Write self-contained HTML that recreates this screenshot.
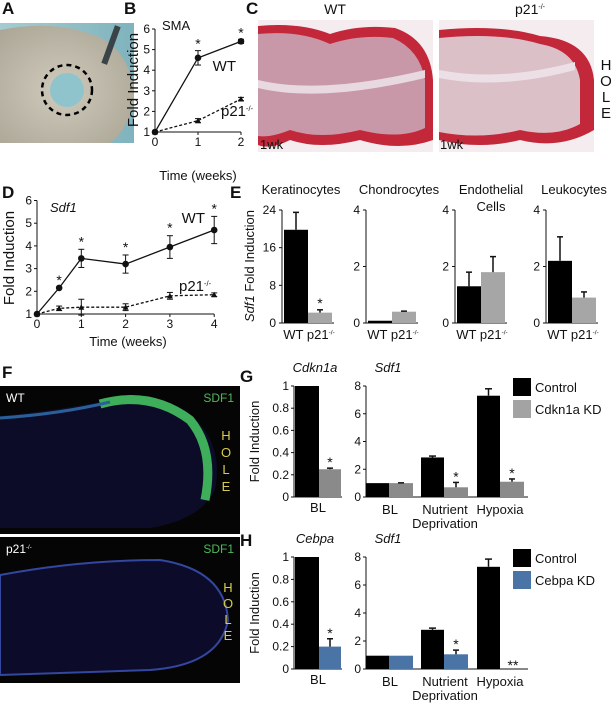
<!DOCTYPE html>
<html><head><meta charset="utf-8"><style>
html,body{margin:0;padding:0;background:#fff;}
svg{display:block;font-family:"Liberation Sans",Arial,sans-serif;}
</style></head><body>
<svg id="fig" width="614" height="706" viewBox="0 0 614 706" xmlns="http://www.w3.org/2000/svg">
<defs>
<radialGradient id="skin" cx="0.45" cy="0.55" r="0.7"><stop offset="0" stop-color="#cfcabb"/><stop offset="1" stop-color="#aaa595"/></radialGradient>
<linearGradient id="bgblue" x1="0" x2="1"><stop offset="0" stop-color="#a5ccd0"/><stop offset="1" stop-color="#7fb3bd"/></linearGradient>
</defs>
<g>
<rect x="0" y="23" width="134" height="120" fill="url(#bgblue)"/>
<path d="M0 30 Q60 18 105 40 Q134 60 134 100 Q128 130 110 143 L0 143 Z" fill="url(#skin)"/>
<rect x="108" y="25" width="6" height="40" fill="#3a4448" transform="rotate(20 111 45)"/>
<circle cx="67" cy="90" r="17" fill="#8fc4cc"/>
<circle cx="67" cy="90" r="25" fill="none" stroke="#000" stroke-width="2.5" stroke-dasharray="5 4"/>
</g>
<g>
<rect x="258" y="20" width="175" height="132" fill="#f4ecee"/>
<path d="M258 26 Q300 22 330 34 Q360 24 395 28 Q430 40 433 80 L433 140 Q400 152 360 140 Q320 150 290 140 Q270 150 258 145 Z" fill="#c2283a"/>
<path d="M258 34 Q300 30 330 44 Q360 34 393 38 Q420 50 425 80 L425 128 Q400 140 360 130 Q320 140 290 130 Q270 138 258 136 Z" fill="#c898a8"/>
<path d="M258 80 Q320 95 425 70 L425 78 Q320 103 258 88 Z" fill="#e8d8e0"/>
</g>
<g>
<rect x="439" y="20" width="155" height="132" fill="#f4ecee"/>
<path d="M439 30 Q500 24 540 36 Q590 40 594 80 L594 130 Q560 150 520 140 Q480 150 439 140 Z" fill="#c2283a"/>
<path d="M439 38 Q500 32 540 44 Q575 50 580 80 L580 124 Q555 138 520 130 Q480 140 439 132 Z" fill="#dcc0c8"/>
<path d="M439 70 Q500 82 575 62 L575 70 Q500 90 439 78 Z" fill="#ece0e6"/>
</g>
<g>
<rect x="0" y="386" width="240" height="148" fill="#050505"/>
<path d="M0 416 Q60 410 110 400 Q150 392 185 410 Q225 440 215 490 Q200 520 150 528 L0 528 Z" fill="#0c0c28"/>
<path d="M100 404 Q150 390 190 420 Q215 450 205 500" fill="none" stroke="#3fae5a" stroke-width="9"/>
<path d="M0 418 Q60 414 110 402" fill="none" stroke="#2a5f9a" stroke-width="3"/>
</g>
<g>
<rect x="0" y="537" width="240" height="146" fill="#050505"/>
<path d="M0 575 Q80 560 160 560 Q225 570 228 620 Q220 665 150 670 L0 675 Z" fill="#0c0c2a" stroke="#3346a0" stroke-width="2"/>
</g>
</svg>
<script>
const NS='http://www.w3.org/2000/svg';
const svg=document.getElementById('fig');
function mk(tag,attrs){const e=document.createElementNS(NS,tag);for(const k in attrs)e.setAttribute(k,attrs[k]);svg.appendChild(e);return e;}
function tx(x,y,s,size,anchor,extra){const e=mk('text',Object.assign({x:x,y:y,'font-size':size,'text-anchor':anchor||'middle',fill:'#111'},extra||{}));e.textContent=s;return e;}
function txh(x,y,h,size,anchor,extra){const e=mk('text',Object.assign({x:x,y:y,'font-size':size,'text-anchor':anchor||'middle',fill:'#111'},extra||{}));e.innerHTML=h;return e;}
const SUP='<tspan font-size="0.5em" dy="-0.7em">-/-</tspan>';
function line(x1,y1,x2,y2,w,dash){return mk('line',{x1:x1,y1:y1,x2:x2,y2:y2,stroke:'#111','stroke-width':w||1,'stroke-dasharray':dash||'none'});}

const bWeeks=[0,1,2];
const bWT=[1,4.6,5.4];
const bWTerr=[0,0.35,0.1];
const bP21=[1,1.55,2.6];
const bP21err=[0,0.1,0.08];
const bYTicks=[1,2,3,4,5,6];
const bXTicks=[0,1,2];

const dWeeks=[0,0.5,1,2,3,4];
const dWT=[1,2.15,3.45,3.2,3.95,4.7];
const dWTerr=[0,0,0.4,0.4,0.5,0.6];
const dP21=[1,1.25,1.3,1.3,1.8,1.85];
const dP21err=[0,0.1,0.35,0.15,0.15,0.08];
const dYTicks=[1,2,3,4,5,6];
const dXTicks=[0,1,2,3,4];

const eCells=['Keratinocytes','Chondrocytes','Endothelial','Leukocytes'];
const eWT=[19.8,0.08,1.3,2.2];
const eWTerr=[3.7,0,0.5,0.85];
const eP21=[2.2,0.4,1.8,0.9];
const eP21err=[0.6,0.02,0.55,0.2];
const eMax=[24,4,4,4];
const eTicksK=[0,8,16,24];
const eTicksO=[0,2,4];

const gLeftCtrl=[1];
const gLeftKD=[0.25];
const gCats=['BL','Nutrient','Hypoxia'];
const gCtrl=[1,2.85,7.3];
const gCtrlErr=[0,0.1,0.5];
const gKD=[1,0.7,1.1];
const gKDErr=[0.02,0.35,0.2];

const hLeftCtrl=[1];
const hLeftKD=[0.2];
const hLeftKDErr=[0.07];
const hCtrl=[0.95,2.8,7.3];
const hCtrlErr=[0,0.12,0.55];
const hKD=[0.95,1.05,0];
const hKDErr=[0,0.3,0];
const leftTicks=[0,0.2,0.4,0.6,0.8,1];
const rightTicks=[0,2,4,6,8];

[['A',2,14],['B',124,14],['C',246,14],['D',2,198],['E',230,198],['F',2,378],['G',240,382],['H',240,546]].forEach(p=>{
  const t=tx(p[1],p[2],p[0],17,'start',{'font-weight':'bold'});
  
  
});

const bx=w=>155+w*43;
const by=v=>132-(v-1)*20.6;
const bAx=line(bx(0),by(6),bx(0),by(1));


const bXa=line(bx(0),by(1),bx(2),by(1));


bYTicks.forEach(v=>{line(bx(0)-3,by(v),bx(0),by(v));const t=tx(bx(0)-5,by(v)+4,String(v),12,'end');});
bXTicks.forEach(v=>{line(bx(v),by(1),bx(v),by(1)+3);const t=tx(bx(v),by(1)+14,String(v),12);});
function series(xs,ys,errs,xf,yf,dash,marker,name){
  const pts=xs.map((x,i)=>xf(x)+','+yf(ys[i])).join(' ');
  const pl=mk('polyline',{points:pts,fill:'none',stroke:'#111','stroke-width':1.3,'stroke-dasharray':dash});
  
  
  xs.forEach((x,i)=>{
    if(errs[i]>0){line(xf(x),yf(ys[i]-errs[i]),xf(x),yf(ys[i]+errs[i]));line(xf(x)-3,yf(ys[i]+errs[i]),xf(x)+3,yf(ys[i]+errs[i]));line(xf(x)-3,yf(ys[i]-errs[i]),xf(x)+3,yf(ys[i]-errs[i]));}
    let m;
    if(marker==='c'){m=mk('circle',{cx:xf(x),cy:yf(ys[i]),r:3.3,fill:'#111'});}
    else{const X=xf(x),Y=yf(ys[i]);m=mk('polygon',{points:(X-3)+','+(Y+2.5)+' '+(X+3)+','+(Y+2.5)+' '+X+','+(Y-3),fill:'#111'});}
    
    
  });
}
series(bWeeks,bWT,bWTerr,bx,by,'none','c','b-wt');
series(bWeeks,bP21,bP21err,bx,by,'3 2','t','b-p21');
[1,2].forEach(i=>{const t=tx(bx(bWeeks[i]),by(bWT[i]+bWTerr[i])-2,'*',14);});
let t;
t=tx(162,30,'SMA',13,'start');
t=tx(236,71,'WT',15,'end');
t=txh(221,116,'p21'+SUP,15,'start');
t=tx(198,180,'Time (weeks)',13);
t=tx(0,0,'Fold Induction',15,'middle',{transform:'translate(138,80) rotate(-90)'});

t=tx(335,14,'WT',14);
t=txh(530,14,'p21'+SUP,14);
['H','O','L','E'].forEach((c,i)=>{const e=tx(606,70+i*16,c,15);});
t=tx(260,149,'1wk',13,'start');
t=tx(440,149,'1wk',13,'start');

const dx=w=>37+w*44.3;
const dy=v=>314-(v-1)*22.7;
const dAx=line(dx(0),dy(6),dx(0),dy(1));


const dXa=line(dx(0),dy(1),dx(4),dy(1));


dYTicks.forEach(v=>{line(dx(0)-3,dy(v),dx(0),dy(v));const e=tx(dx(0)-5,dy(v)+4,String(v),12,'end');});
dXTicks.forEach(v=>{line(dx(v),dy(1),dx(v),dy(1)+3);const e=tx(dx(v),dy(1)+14,String(v),12);});
series(dWeeks,dWT,dWTerr,dx,dy,'none','c','d-wt');
series(dWeeks,dP21,dP21err,dx,dy,'3 2','t','d-p21');
[1,2,3,4,5].forEach(i=>{const e=tx(dx(dWeeks[i]),dy(dWT[i]+dWTerr[i])-3,'*',14);});
t=tx(50,212,'Sdf1',13,'start',{'font-style':'italic'});
t=tx(205,223,'WT',15,'end');
t=txh(179,291,'p21'+SUP,15,'start');
t=tx(128,346,'Time (weeks)',13);
t=tx(0,0,'Fold Induction',15,'middle',{transform:'translate(14,258) rotate(-90)'});

const eAxisX=[282,366,455,546];
const eTitleX=[301,399,491,574];
eCells.forEach((c,k)=>{
  const ax=eAxisX[k];
  const ey=v=>323-v/eMax[k]*113;
  const a=line(ax,ey(eMax[k]),ax,ey(0));
  
  
  line(ax,ey(0),ax+52,ey(0));
  (k===0?eTicksK:eTicksO).forEach(v=>{line(ax-3,ey(v),ax,ey(v));const e=tx(ax-6,ey(v)+4,String(v),12,'end');});
  const b1=mk('rect',{x:ax+2,y:ey(eWT[k]),width:24,height:ey(0)-ey(eWT[k]),fill:'#000'});
  
  
  const b2=mk('rect',{x:ax+26,y:ey(eP21[k]),width:24,height:ey(0)-ey(eP21[k]),fill:'#a6a6a6'});
  
  
  if(eWTerr[k]>0){line(ax+14,ey(eWT[k]),ax+14,ey(eWT[k]+eWTerr[k]),1.5);line(ax+11,ey(eWT[k]+eWTerr[k]),ax+17,ey(eWT[k]+eWTerr[k]),1.5);}
  if(eP21err[k]>0){line(ax+38,ey(eP21[k]),ax+38,ey(eP21[k]+eP21err[k]),1.5);line(ax+35,ey(eP21[k]+eP21err[k]),ax+41,ey(eP21[k]+eP21err[k]),1.5);}
  if(k===0){const s=tx(ax+38,ey(eP21[k]+eP21err[k])-2,'*',14);}
  const l=txh(ax+27,339,'WT p21'+SUP,13);
  const ti=tx(eTitleX[k],194,c,13);
});
t=tx(491,211,'Cells',13);
t=txh(0,0,'<tspan font-style="italic">Sdf1</tspan> Fold Induction',13,'middle',{transform:'translate(254,266) rotate(-90)'});



function kdPanel(pre,top,bot,leftC,leftK,leftKErr,ctrl,ctrlErr,kd,kdErr,kdColor,kdLegendColor,gene,kdName){
  const lx=294, rx=366;
  const ly=v=>bot-v*(bot-top);
  const ry=v=>bot-v/8*(bot-top);
  let e=line(lx,top,lx,bot);
  
  
  line(lx,bot,lx+48,bot);
  leftTicks.forEach(v=>{line(lx-3,ly(v),lx,ly(v));const q=tx(lx-5,ly(v)+4,String(v),12,'end');});
  e=mk('rect',{x:lx+1,y:ly(leftC[0]),width:24,height:bot-ly(leftC[0]),fill:'#000'});
  
  
  e=mk('rect',{x:lx+25,y:ly(leftK[0]),width:22,height:bot-ly(leftK[0]),fill:kdColor});
  
  
  if(leftKErr[0]>0){line(lx+36,ly(leftK[0]),lx+36,ly(leftK[0]+leftKErr[0]),1.5);line(lx+33,ly(leftK[0]+leftKErr[0]),lx+39,ly(leftK[0]+leftKErr[0]),1.5);}
  e=tx(lx+36,ly(leftK[0]+leftKErr[0])-1,'*',14);
  
  
  e=tx(lx+24,bot+15,'BL',13);
  
  
  e=line(rx,top,rx,bot);
  
  
  line(rx,bot,528,bot);
  rightTicks.forEach(v=>{line(rx-3,ry(v),rx,ry(v));const q=tx(rx-5,ry(v)+4,String(v),12,'end');});
  const gx=[366,421,477];
  gCats.forEach((c,i)=>{
    const x0=gx[i];
    const b=mk('rect',{x:x0,y:ry(ctrl[i]),width:23,height:bot-ry(ctrl[i]),fill:'#000'});
    
    
    if(ctrlErr[i]>0){line(x0+11.5,ry(ctrl[i]),x0+11.5,ry(ctrl[i]+ctrlErr[i]),1.5);line(x0+8,ry(ctrl[i]+ctrlErr[i]),x0+15,ry(ctrl[i]+ctrlErr[i]),1.5);}
    if(kd[i]>0){
      const k2=mk('rect',{x:x0+23,y:ry(kd[i]),width:24,height:bot-ry(kd[i]),fill:kdColor});
      
      
      if(kdErr[i]>0){line(x0+35,ry(kd[i]),x0+35,ry(kd[i]+kdErr[i]),1.5);line(x0+32,ry(kd[i]+kdErr[i]),x0+38,ry(kd[i]+kdErr[i]),1.5);}
    }
    if(i>0){
      const s=kd[i]>0?tx(x0+35,ry(kd[i]+kdErr[i])-1,'*',14):tx(x0+36,bot+1,'**',14);
      
      
    }
  });
  e=tx(390,bot+17,'BL',13);
  e=tx(445,bot+17,'Nutrient',13);
  e=tx(445,bot+31,'Deprivation',13);
  e=tx(500,bot+17,'Hypoxia',13);
  e=tx(315,top-14,gene,13,'middle',{'font-style':'italic'});
  e=tx(388,top-14,'Sdf1',13,'middle',{'font-style':'italic'});
  e=tx(0,0,'Fold Induction',13,'middle',{transform:'translate('+259+','+((top+bot)/2)+') rotate(-90)'});
  e=mk('rect',{x:513,y:top-8,width:18,height:18,fill:'#000'});
  e=tx(535,top+6,'Control',13,'start');
  e=mk('rect',{x:513,y:top+14,width:18,height:18,fill:kdLegendColor});
  e=tx(535,top+28,kdName,13,'start');
}
kdPanel('g',386,497,gLeftCtrl,gLeftKD,[0.01],gCtrl,gCtrlErr,gKD,gKDErr,'#8a8a8a','#a3a3a3','Cdkn1a','Cdkn1a KD');
kdPanel('h',557,669,hLeftCtrl,hLeftKD,hLeftKDErr,hCtrl,hCtrlErr,hKD,hKDErr,'#4a74a6','#4a74a6','Cebpa','Cebpa KD');

t=tx(6,402,'WT',12,'start',{fill:'#fff'});
t=tx(234,402,'SDF1',12,'end',{fill:'#4fb95a'});
t=txh(6,553,'p21'+SUP,12,'start',{fill:'#fff'});
t=tx(234,553,'SDF1',12,'end',{fill:'#4fb95a'});
['H','O','L','E'].forEach((c,i)=>{const e=tx(226,440+i*17,c,13,'middle',{fill:'#d8cc4c'});});
['H','O','L','E'].forEach((c,i)=>{const e=tx(228,592+i*16,c,13,'middle',{fill:'#d8cc4c'});});
</script>
</body></html>
